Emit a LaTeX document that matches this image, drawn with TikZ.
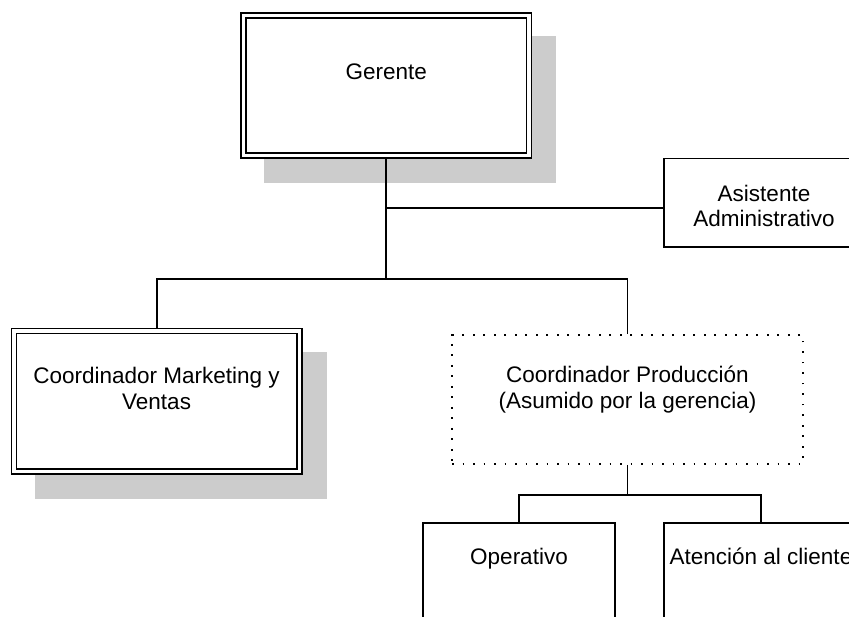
\documentclass[tikz,border=0pt]{standalone}
\usepackage{fontspec}
\setmainfont{Liberation Sans}
\usetikzlibrary{backgrounds}
\definecolor{shadowgray}{HTML}{CCCCCC}
\begin{document}
\begin{tikzpicture}[x=1pt,y=-1pt,
  every node/.style={inner sep=0pt},
  conn/.style={draw=black, line width=1.8pt},
  dblbox/.style={rectangle, draw=black, double=white, line width=1.7pt,
    double distance=3.3pt, fill=white, minimum width=285.5pt,
    minimum height=140.5pt, outer sep=3.35pt},
  plainbox/.style={rectangle, draw=black, line width=1.8pt, fill=white},
  dotbox/.style={rectangle, draw=black, line width=1.9pt,
    dash pattern=on 1.9pt off 8.6pt},
  lbl/.style={font=\fontsize{22.5}{26}\selectfont, anchor=base},
  shade/.style={fill=shadowgray}]
\useasboundingbox (0,0) rectangle (849,617);
\clip (0,0) rectangle (849,617);

% boxes
\node[dblbox] (ger) at (386.25,85.5) {};
\node[plainbox, minimum width=200pt, minimum height=88.5pt] (asi) at (764,202.75) {};
\node[dblbox] (mkt) at (156.6,401.2) {};
\node[dotbox, minimum width=351pt, minimum height=129pt] (prod) at (627.5,399.5) {};
\node[plainbox, minimum width=192pt, minimum height=130pt] (ope) at (519,588) {};
\node[plainbox, minimum width=194pt, minimum height=130pt] (ate) at (761,588) {};

% drop shadows behind the double-framed boxes
\begin{scope}[on background layer]
  \fill[shade] ([shift={(24,24)}]ger.north west) rectangle ([shift={(24,24)}]ger.south east);
  \fill[shade] ([shift={(24,24)}]mkt.north west) rectangle ([shift={(24,24)}]mkt.south east);
\end{scope}

% labels
\node[lbl] (gert) at (386.25,80) {Gerente};
\node[lbl] (asit) at (764,202) {\begin{tabular}[t]{@{}c@{}}Asistente\\[-1.5pt]Administrativo\end{tabular}};
\node[lbl] (mktt) at (156.6,384) {\begin{tabular}[t]{@{}c@{}}Coordinador Marketing y\\Ventas\end{tabular}};
\node[lbl] (prodt) at (627.5,383) {\begin{tabular}[t]{@{}c@{}}Coordinador Producción\\(Asumido por la gerencia)\end{tabular}};
\node[lbl] (opet) at (519,564) {Operativo};
\node[lbl] (atet) at (761,564) {Atención al cliente};

% connectors
\coordinate (gbus) at (386.25,279);
\coordinate (abr) at (386.25,208);
\coordinate (pbus) at (627.5,495);
\draw[conn] (ger.south) -- (gbus);
\draw[conn] (abr) -- (abr -| asi.west);
\draw[conn] (mkt.north) |- (gbus) -| (prod.north);
\draw[conn] (prod.south) -- (pbus);
\draw[conn] (ope.north) |- (pbus) -| (ate.north);
\end{tikzpicture}
\end{document}
